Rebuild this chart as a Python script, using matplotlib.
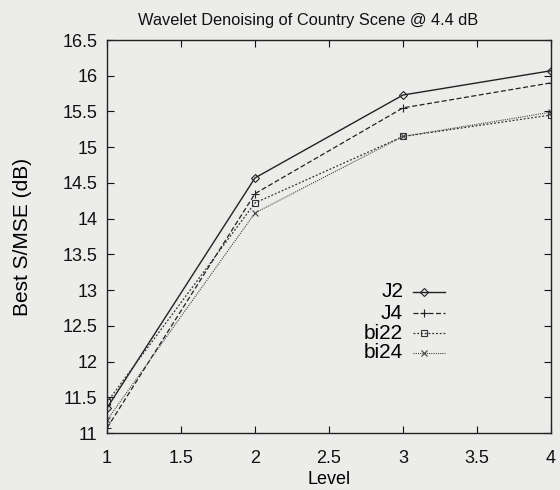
import matplotlib.pyplot as plt

plt.rcParams['font.family'] = ['Liberation Sans', 'DejaVu Sans']

levels = [1, 2, 3, 4]
names = ['J2', 'J4', 'bi22', 'bi24']
j2 = [11.35, 14.57, 15.73, 16.07]
j4 = [11.07, 14.35, 15.55, 15.90]
bi22 = [11.43, 14.22, 15.15, 15.45]
bi24 = [11.18, 14.08, 15.15, 15.49]
series = [j2, j4, bi22, bi24]

styles = [
    dict(color='#222222', lw=1.0, ls='-', marker='D', ms=4, mfc='none', mew=0.8),
    dict(color='#222222', lw=0.9, ls=(0, (4, 2)), marker='+', ms=6, mew=0.8),
    dict(color='#333333', lw=0.9, ls=(0, (1.5, 1.5)), marker='s', ms=5, mfc='none', mew=0.8),
    dict(color='#444444', lw=0.8, ls=(0, (1, 1)), marker='x', ms=5, mew=0.8),
]

bg = '#ececea'
fig = plt.figure(figsize=(5.6, 4.9), dpi=100, facecolor=bg)
ax = fig.add_axes([107/560, 57/490, 444/560, 393/490], facecolor=bg)

for name, vals, st in zip(names, series, styles):
    ax.plot(levels, vals, label=name, **st)

ax.set_xlim(1, 4)
ax.set_ylim(11, 16.5)
ax.set_xticks([1, 1.5, 2, 2.5, 3, 3.5, 4])
ax.set_xticklabels(['1', '1.5', '2', '2.5', '3', '3.5', '4'])
ax.set_yticks([11 + 0.5 * i for i in range(12)])
ax.set_yticklabels(['11', '11.5', '12', '12.5', '13', '13.5', '14', '14.5',
                    '15', '15.5', '16', '16.5'])
ax.tick_params(direction='in', top=True, right=True, length=5, width=0.8,
               labelsize=13, colors='#111111')
ax.tick_params(axis='x', pad=12)
ax.tick_params(axis='y', pad=7)
for s in ax.spines.values():
    s.set_linewidth(1.0)
    s.set_color('#222222')

ax.set_title('Wavelet Denoising of Country Scene @ 4.4 dB', fontsize=11.8,
             pad=11, x=0.452, color='#111111')
ax.set_xlabel('Level', fontsize=13, labelpad=3)
ax.set_ylabel('Best S/MSE (dB)', fontsize=15, labelpad=22)

# gnuplot-style key: right-aligned label, sample line to its right
key_y = [0.359, 0.305, 0.254, 0.204]
for name, st, ky in zip(names, styles, key_y):
    ax.text(0.667, ky, name, transform=ax.transAxes, ha='right', va='center',
            fontsize=15)
    line_st = {k: v for k, v in st.items() if k != 'marker'}
    ax.plot([0.689, 0.761], [ky, ky], transform=ax.transAxes, clip_on=False,
            **line_st)
    ax.plot([0.714], [ky], transform=ax.transAxes, clip_on=False, ls='none',
            marker=st['marker'], ms=st['ms'], mew=st['mew'], color=st['color'],
            mfc=st.get('mfc', st['color']))

fig.savefig('out.png', dpi=100, facecolor=bg)
